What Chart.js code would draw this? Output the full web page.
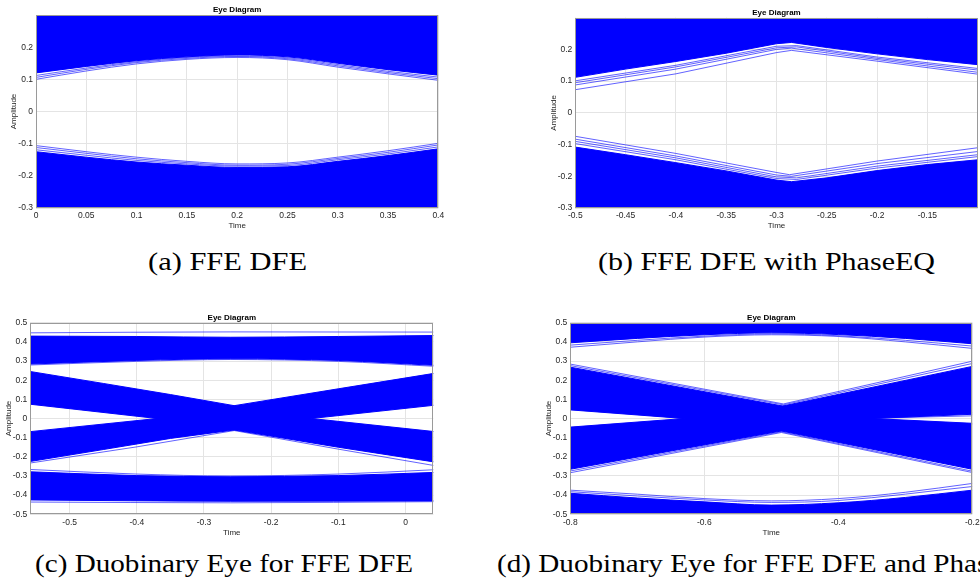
<!DOCTYPE html>
<html>
<head>
<meta charset="utf-8">
<script src="https://cdn.jsdelivr.net/npm/chart.js@4.4.1/dist/chart.umd.min.js"></script>
<style>
  html, body { margin: 0; padding: 0; background: #fff; }
  #page { position: relative; width: 980px; height: 583px; overflow: hidden; background: #fff; }
  canvas { position: absolute; }
  .cap { position: absolute; white-space: nowrap; font-family: "Liberation Serif", "Times New Roman", serif;
         font-size: 25px; line-height: 1; color: #000; }
</style>
</head>
<body>
<div id="page">
  <canvas id="eyeA" width="450" height="231" style="left:0px;top:0px"></canvas>
  <canvas id="eyeB" width="460" height="231" style="left:530px;top:0px"></canvas>
  <canvas id="eyeC" width="446" height="238" style="left:0px;top:300px"></canvas>
  <canvas id="eyeD" width="460" height="238" style="left:530px;top:300px"></canvas>
  <div class="cap" id="capA">(a) FFE DFE</div>
  <div class="cap" id="capB">(b) FFE DFE with PhaseEQ</div>
  <div class="cap" id="capC">(c) Duobinary Eye for FFE DFE</div>
  <div class="cap" id="capD">(d) Duobinary Eye for FFE DFE and PhaseEQ</div>
</div>
<script>
// ---------- (a) FFE DFE : eye opening edges, [time, amplitude] ----------
const aTimeTicks  = [0, 0.05, 0.1, 0.15, 0.2, 0.25, 0.3, 0.35, 0.4];
const aTimeLabels = ['0', '0.05', '0.1', '0.15', '0.2', '0.25', '0.3', '0.35', '0.4'];
const aAmpTicks   = [-0.3, -0.2, -0.1, 0, 0.1, 0.2];
const aAmpLabels  = ['-0.3', '-0.2', '-0.1', '0', '0.1', '0.2'];
const aUpperEdge  = [[0,0.120],[0.05,0.140],[0.1,0.158],[0.15,0.170],[0.2,0.176],[0.25,0.170],[0.3,0.150],[0.35,0.130],[0.4,0.113]];
const aUpperTrace1 = [[0,0.100],[0.05,0.126],[0.1,0.148],[0.15,0.162],[0.2,0.168],[0.25,0.161],[0.3,0.138],[0.35,0.117],[0.4,0.097]];
const aUpperTrace2 = [[0,0.106],[0.05,0.131],[0.1,0.152],[0.15,0.165],[0.2,0.171],[0.25,0.164],[0.3,0.142],[0.35,0.121],[0.4,0.102]];
const aUpperTrace3 = [[0,0.112],[0.05,0.135],[0.1,0.155],[0.15,0.168],[0.2,0.173],[0.25,0.167],[0.3,0.146],[0.35,0.125],[0.4,0.107]];
const aLowerEdge  = [[0,-0.125],[0.05,-0.142],[0.1,-0.157],[0.15,-0.167],[0.2,-0.174],[0.25,-0.172],[0.3,-0.155],[0.35,-0.137],[0.4,-0.116]];
const aLowerTrace1 = [[0,-0.106],[0.05,-0.125],[0.1,-0.142],[0.15,-0.155],[0.2,-0.163],[0.25,-0.160],[0.3,-0.142],[0.35,-0.122],[0.4,-0.099]];
const aLowerTrace2 = [[0,-0.112],[0.05,-0.130],[0.1,-0.147],[0.15,-0.159],[0.2,-0.167],[0.25,-0.164],[0.3,-0.146],[0.35,-0.127],[0.4,-0.104]];
const aLowerTrace3 = [[0,-0.119],[0.05,-0.136],[0.1,-0.152],[0.15,-0.163],[0.2,-0.170],[0.25,-0.168],[0.3,-0.150],[0.35,-0.132],[0.4,-0.110]];

// ---------- (b) FFE DFE with PhaseEQ ----------
const bTimeTicks  = [-0.5, -0.45, -0.4, -0.35, -0.3, -0.25, -0.2, -0.15];
const bTimeLabels = ['-0.5', '-0.45', '-0.4', '-0.35', '-0.3', '-0.25', '-0.2', '-0.15'];
const bAmpTicks   = [-0.3, -0.2, -0.1, 0, 0.1, 0.2];
const bAmpLabels  = ['-0.3', '-0.2', '-0.1', '0', '0.1', '0.2'];
const bUpperEdge  = [[-0.5,0.112],[-0.45,0.138],[-0.4,0.162],[-0.35,0.188],[-0.3,0.218],[-0.285,0.222],[-0.25,0.206],[-0.2,0.186],[-0.15,0.168],[-0.1,0.152]];
const bUpperTrace1 = [[-0.5,0.073],[-0.4,0.123],[-0.3,0.190],[-0.285,0.197],[-0.2,0.163],[-0.1,0.122]];
const bUpperTrace2 = [[-0.5,0.088],[-0.4,0.138],[-0.3,0.200],[-0.285,0.204],[-0.2,0.168],[-0.1,0.128]];
const bUpperTrace3 = [[-0.5,0.095],[-0.4,0.145],[-0.3,0.205],[-0.28,0.208],[-0.2,0.172],[-0.1,0.135]];
const bUpperTrace4 = [[-0.5,0.101],[-0.4,0.150],[-0.3,0.210],[-0.28,0.212],[-0.2,0.176],[-0.1,0.140]];
const bLowerEdge  = [[-0.5,-0.108],[-0.45,-0.132],[-0.4,-0.157],[-0.35,-0.183],[-0.3,-0.212],[-0.285,-0.217],[-0.25,-0.205],[-0.2,-0.182],[-0.15,-0.163],[-0.1,-0.148]];
const bLowerTrace1 = [[-0.5,-0.074],[-0.4,-0.128],[-0.3,-0.188],[-0.287,-0.195],[-0.2,-0.152],[-0.1,-0.110]];
const bLowerTrace2 = [[-0.5,-0.083],[-0.4,-0.136],[-0.3,-0.196],[-0.285,-0.200],[-0.2,-0.160],[-0.1,-0.122]];
const bLowerTrace3 = [[-0.5,-0.090],[-0.4,-0.142],[-0.3,-0.202],[-0.28,-0.205],[-0.2,-0.168],[-0.1,-0.132]];
const bLowerTrace4 = [[-0.5,-0.097],[-0.4,-0.148],[-0.3,-0.207],[-0.28,-0.210],[-0.2,-0.174],[-0.1,-0.138]];

// ---------- (c) Duobinary eye, FFE DFE ----------
const cTimeTicks  = [-0.5, -0.4, -0.3, -0.2, -0.1, 0];
const cTimeLabels = ['-0.5', '-0.4', '-0.3', '-0.2', '-0.1', '0'];
const cAmpTicks   = [-0.5, -0.4, -0.3, -0.2, -0.1, 0, 0.1, 0.2, 0.3, 0.4, 0.5];
const cAmpLabels  = ['-0.5', '-0.4', '-0.3', '-0.2', '-0.1', '0', '0.1', '0.2', '0.3', '0.4', '0.5'];
const cTopBandTop    = [[-0.56,0.430],[-0.4,0.428],[-0.26,0.424],[-0.1,0.428],[0.045,0.433]];
const cTopBandBottom = [[-0.56,0.284],[-0.4,0.303],[-0.26,0.312],[-0.1,0.303],[0.045,0.277]];
const cTopTraceHigh  = [[-0.56,0.447],[-0.26,0.452],[0.045,0.451]];
const cTopTraceLow   = [[-0.56,0.279],[-0.4,0.298],[-0.26,0.308],[-0.1,0.298],[0.045,0.272]];
const cDescTop    = [[-0.56,0.246],[-0.45,0.183],[-0.35,0.125],[-0.255,0.067],[-0.14,0.0],[0.045,-0.069]];
const cDescBottom = [[-0.56,0.075],[-0.37,0.0],[-0.255,-0.060],[-0.1,-0.150],[0.045,-0.228]];
const cAscTop     = [[-0.56,-0.069],[-0.37,0.0],[-0.255,0.067],[-0.1,0.155],[0.045,0.237]];
const cAscBottom  = [[-0.56,-0.225],[-0.45,-0.162],[-0.35,-0.104],[-0.255,-0.060],[-0.14,0.0],[0.045,0.070]];
const cDescTrace  = [[-0.56,0.088],[-0.36,0.004]];
const cAscTrace   = [[-0.56,-0.080],[-0.36,-0.004]];
const cLowVTraceL = [[-0.56,-0.233],[-0.4,-0.148],[-0.255,-0.063]];
const cLowVTraceR = [[-0.255,-0.063],[-0.1,-0.160],[0.045,-0.247]];
const cBotBandTop    = [[-0.56,-0.278],[-0.4,-0.298],[-0.26,-0.304],[-0.1,-0.298],[0.045,-0.281]];
const cBotBandBottom = [[-0.56,-0.425],[-0.26,-0.432],[0.045,-0.430]];
const cBotTraceHigh  = [[-0.56,-0.266],[-0.4,-0.290],[-0.26,-0.300],[-0.1,-0.290],[0.045,-0.267]];
const cBotTraceLow   = [[-0.56,-0.436],[-0.26,-0.440],[0.045,-0.434]];

// ---------- (d) Duobinary eye, FFE DFE and PhaseEQ ----------
const dTimeTicks  = [-0.8, -0.6, -0.4, -0.2];
const dTimeLabels = ['-0.8', '-0.6', '-0.4', '-0.2'];
const dAmpTicks   = [-0.5, -0.4, -0.3, -0.2, -0.1, 0, 0.1, 0.2, 0.3, 0.4, 0.5];
const dAmpLabels  = ['-0.5', '-0.4', '-0.3', '-0.2', '-0.1', '0', '0.1', '0.2', '0.3', '0.4', '0.5'];
const dTopEdge    = [[-0.8,0.395],[-0.7,0.418],[-0.6,0.437],[-0.5,0.447],[-0.4,0.438],[-0.3,0.418],[-0.2,0.390]];
const dTopTrace1  = [[-0.8,0.372],[-0.7,0.400],[-0.6,0.425],[-0.5,0.437],[-0.4,0.428],[-0.3,0.400],[-0.2,0.366]];
const dTopTrace2  = [[-0.8,0.383],[-0.7,0.408],[-0.6,0.430],[-0.5,0.442],[-0.4,0.432],[-0.3,0.408],[-0.2,0.378]];
const dDescTop    = [[-0.8,0.268],[-0.483,0.065],[-0.35,0.0],[-0.2,-0.025]];
const dDescBottom = [[-0.8,0.045],[-0.63,0.0],[-0.485,-0.065],[-0.2,-0.265]];
const dAscTop     = [[-0.8,-0.045],[-0.63,0.0],[-0.483,0.065],[-0.2,0.272]];
const dAscBottom  = [[-0.8,-0.265],[-0.485,-0.065],[-0.35,0.0],[-0.2,0.022]];
const dUpVTrace1  = [[-0.8,0.284],[-0.482,0.076],[-0.2,0.299]];
const dUpVTrace2  = [[-0.8,0.276],[-0.482,0.071],[-0.2,0.287]];
const dLowVTrace1 = [[-0.8,-0.283],[-0.485,-0.073],[-0.2,-0.282]];
const dLowVTrace2 = [[-0.8,-0.274],[-0.485,-0.069],[-0.2,-0.275]];
const dLeftTrace1 = [[-0.8,0.063],[-0.62,0.002]];
const dLeftTrace2 = [[-0.8,0.055],[-0.63,0.0]];
const dLeftTrace3 = [[-0.8,-0.062],[-0.62,-0.002]];
const dLeftTrace4 = [[-0.8,-0.074],[-0.61,-0.004]];
const dRightTrace1 = [[-0.36,0.0],[-0.2,0.031]];
const dRightTrace2 = [[-0.36,0.0],[-0.2,-0.031]];
const dRightTrace3 = [[-0.34,0.002],[-0.2,0.014]];
const dBotEdge    = [[-0.8,-0.390],[-0.7,-0.415],[-0.6,-0.435],[-0.5,-0.452],[-0.4,-0.440],[-0.3,-0.412],[-0.2,-0.374]];
const dBotTrace1  = [[-0.8,-0.374],[-0.7,-0.395],[-0.6,-0.418],[-0.5,-0.430],[-0.4,-0.418],[-0.3,-0.385],[-0.2,-0.339]];
const dBotTrace2  = [[-0.8,-0.382],[-0.6,-0.425],[-0.5,-0.438],[-0.4,-0.428],[-0.2,-0.355]];

// ---------- drawing helpers ----------
const BLUE = '#0000ff';
const TRACE = 'rgba(0,0,255,0.62)';
const SANS = '"Liberation Sans", Arial, Helvetica, sans-serif';
const pts = arr => arr.map(([x, y]) => ({ x, y }));

function edge(arr, fill, smooth) {
  return { data: pts(arr), borderColor: BLUE, backgroundColor: BLUE, borderWidth: 1,
           pointRadius: 0, fill: fill, tension: 0,
           cubicInterpolationMode: smooth ? 'monotone' : 'default' };
}
function trace(arr, smooth) {
  return { data: pts(arr), borderColor: TRACE, borderWidth: 1, pointRadius: 0, fill: false,
           tension: 0, cubicInterpolationMode: smooth ? 'monotone' : 'default' };
}

// frame around the plotting area
const axesBox = {
  id: 'axesBox',
  afterDatasetsDraw(chart) {
    const a = chart.chartArea, ctx = chart.ctx;
    ctx.save();
    ctx.strokeStyle = '#9a9a9a';
    ctx.lineWidth = 1;
    ctx.strokeRect(Math.round(a.left) + 0.5, Math.round(a.top) + 0.5,
                   Math.round(a.right) - Math.round(a.left) - 1, Math.round(a.bottom) - Math.round(a.top) - 1);
    ctx.restore();
  }
};

function eye(id, p) {
  const tickFont = { family: SANS, size: 8.5, lineHeight: 1.2 };
  const titleFont = { family: SANS, size: 8, lineHeight: 1.2 };
  return new Chart(document.getElementById(id), {
    type: 'line',
    data: { datasets: p.datasets },
    plugins: [axesBox],
    options: {
      responsive: false, animation: false, devicePixelRatio: 1, events: [],
      layout: { padding: { left: 0, top: 0, right: p.padR, bottom: 0 } },
      plugins: {
        legend: { display: false },
        tooltip: { enabled: false },
        title: { display: true, text: 'Eye Diagram', color: '#000', fullSize: false,
                 font: { family: SANS, size: 8, weight: 'bold', lineHeight: 1.2 },
                 padding: { top: p.titleTop, bottom: p.titleBottom } }
      },
      scales: {
        x: {
          type: 'linear', min: p.xMin, max: p.xMax,
          afterBuildTicks: ax => { ax.ticks = p.xTicks.map(v => ({ value: v })); },
          afterFit: ax => { ax.height = p.xH; },
          ticks: { autoSkip: false, maxRotation: 0, padding: 3, color: '#262626', font: tickFont,
                   callback: (v, i) => p.xLabels[i] },
          grid: { color: '#e4e4e4', drawTicks: false },
          border: { display: false },
          title: { display: true, text: 'Time', color: '#262626', font: titleFont,
                   padding: { top: 0, bottom: p.xTitlePad } }
        },
        y: {
          type: 'linear', min: p.yMin, max: p.yMax,
          afterBuildTicks: ax => { ax.ticks = p.yTicks.map(v => ({ value: v })); },
          afterFit: ax => { ax.width = p.yW; },
          ticks: { autoSkip: false, padding: 3, color: '#262626', font: tickFont,
                   callback: (v, i) => p.yLabels[i] },
          grid: { color: '#e4e4e4', drawTicks: false },
          border: { display: false },
          title: { display: true, text: 'Amplitude', color: '#262626', font: titleFont,
                   padding: { top: p.yTitlePad, bottom: 0 } }
        }
      }
    }
  });
}

eye('eyeA', {
  xMin: 0, xMax: 0.4, yMin: -0.3, yMax: 0.3,
  xTicks: aTimeTicks, xLabels: aTimeLabels, yTicks: aAmpTicks, yLabels: aAmpLabels,
  yW: 36, xH: 23, padR: 11.7, titleTop: 5.2, titleBottom: 0.2, yTitlePad: 8.7, xTitlePad: 0.2,
  datasets: [
    edge(aUpperEdge, 'end', true), edge(aLowerEdge, 'start', true),
    trace(aUpperTrace1, true), trace(aUpperTrace2, true), trace(aUpperTrace3, true),
    trace(aLowerTrace1, true), trace(aLowerTrace2, true), trace(aLowerTrace3, true)
  ]
});

eye('eyeB', {
  xMin: -0.5, xMax: -0.1, yMin: -0.3, yMax: 0.3,
  xTicks: bTimeTicks, xLabels: bTimeLabels, yTicks: bAmpTicks, yLabels: bAmpLabels,
  yW: 45.3, xH: 23, padR: 12.3, titleTop: 8.1, titleBottom: 0, yTitlePad: 18.5, xTitlePad: 0.2,
  datasets: [
    edge(bUpperEdge, 'end', false), edge(bLowerEdge, 'start', false),
    trace(bUpperTrace1), trace(bUpperTrace2), trace(bUpperTrace3), trace(bUpperTrace4),
    trace(bLowerTrace1), trace(bLowerTrace2), trace(bLowerTrace3), trace(bLowerTrace4)
  ]
});

eye('eyeC', {
  xMin: -0.5586, xMax: 0.0414, yMin: -0.5, yMax: 0.5,
  xTicks: cTimeTicks, xLabels: cTimeLabels, yTicks: cAmpTicks, yLabels: cAmpLabels,
  yW: 30.3, xH: 23.7, padR: 12.7, titleTop: 12.5, titleBottom: 0.6, yTitlePad: 3.5, xTitlePad: 0.5,
  datasets: [
    edge(cTopBandTop, false, true), edge(cTopBandBottom, '-1', true),
    edge(cDescTop, false, false), edge(cDescBottom, '-1', false),
    edge(cAscTop, false, false), edge(cAscBottom, '-1', false),
    edge(cBotBandTop, false, true), edge(cBotBandBottom, '-1', true),
    trace(cTopTraceHigh, true), trace(cTopTraceLow, true),
    trace(cDescTrace), trace(cAscTrace), trace(cLowVTraceL), trace(cLowVTraceR),
    trace(cBotTraceHigh, true), trace(cBotTraceLow, true)
  ]
});

eye('eyeD', {
  xMin: -0.8, xMax: -0.2, yMin: -0.5, yMax: 0.5,
  xTicks: dTimeTicks, xLabels: dTimeLabels, yTicks: dAmpTicks, yLabels: dAmpLabels,
  yW: 40.3, xH: 23.7, padR: 17.7, titleTop: 12.5, titleBottom: 0.6, yTitlePad: 13.5, xTitlePad: 0.5,
  datasets: [
    edge(dTopEdge, 'end', true),
    edge(dDescTop, false, false), edge(dDescBottom, '-1', false),
    edge(dAscTop, false, false), edge(dAscBottom, '-1', false),
    edge(dBotEdge, 'start', true),
    trace(dTopTrace1, true), trace(dTopTrace2, true),
    trace(dUpVTrace1), trace(dUpVTrace2), trace(dLowVTrace1), trace(dLowVTrace2),
    trace(dLeftTrace1), trace(dLeftTrace2), trace(dLeftTrace3), trace(dLeftTrace4),
    trace(dRightTrace1), trace(dRightTrace2), trace(dRightTrace3),
    trace(dBotTrace1, true), trace(dBotTrace2, true)
  ]
});

// sub-figure captions, stretched to the typeset width of the original serif face
function placeCaption(id, left, top, width, scale) {
  const el = document.getElementById(id);
  el.style.left = left + 'px';
  el.style.top = top + 'px';
  const s = scale || width / el.getBoundingClientRect().width;
  el.style.transformOrigin = '0 0';
  el.style.transform = 'scaleX(' + s + ')';
  return s;
}
placeCaption('capA', 148, 249, 159);
placeCaption('capB', 598, 249, 337);
const sC = placeCaption('capC', 35, 551, 378);
placeCaption('capD', 497, 551, 0, sC);
</script>
</body>
</html>
